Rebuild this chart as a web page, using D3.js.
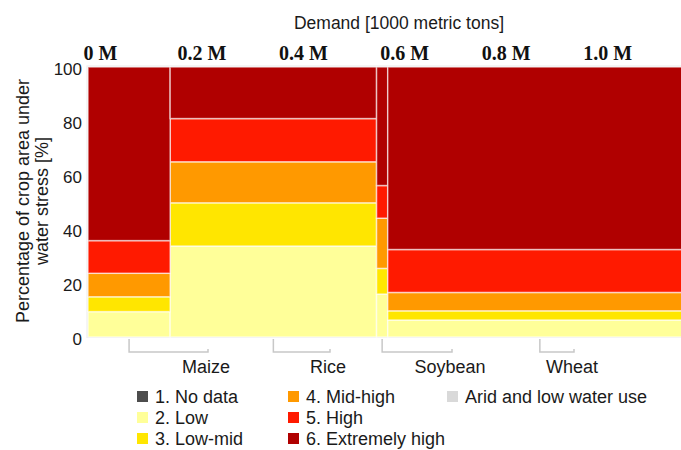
<!DOCTYPE html>
<html>
<head>
<meta charset="utf-8">
<script src="https://cdn.jsdelivr.net/npm/d3@7.9.0/dist/d3.min.js"></script>
<style>
  body { margin: 0; background: #fff; }
  svg { display: block; font-family: "Liberation Sans", Arial, sans-serif; }
</style>
</head>
<body>
<svg id="chart" width="681" height="450"></svg>
<script>
// crops, demand in 1000 metric tons
const crops = ['Maize', 'Rice', 'Soybean', 'Wheat'];
const demand = [162000, 407000, 22000, 600000];

// share of crop area (%) per stress level: Low, Low-mid, Mid-high, High, Extremely high
const stressKeys = ['low', 'lowMid', 'midHigh', 'high', 'extHigh'];
const maizeShare = [9.4, 5.5, 8.7, 12.1, 64.3];
const riceShare = [33.7, 16.0, 15.2, 16.0, 19.1];
const soybeanShare = [15.9, 9.5, 18.6, 12.1, 43.9];
const wheatShare = [6.3, 3.4, 6.8, 15.9, 67.6];

const legendLabels = ['1. No data', '2. Low', '3. Low-mid', '4. Mid-high', '5. High', '6. Extremely high', 'Arid and low water use'];
const legendColors = ['#4d4d4d', '#ffff99', '#ffe600', '#ff9900', '#ff1a00', '#b00000', '#d9d9d9'];
const stressColors = ['#ffff99', '#ffe600', '#ff9900', '#ff1a00', '#b00000'];

const xTicks = [0, 200000, 400000, 600000, 800000, 1000000];
const yTicks = [0, 20, 40, 60, 80, 100];

// table for stacking
const shares = [maizeShare, riceShare, soybeanShare, wheatShare];
let acc = 0;
const table = crops.map((c, i) => {
  const row = { crop: c, x0: acc, x1: acc + demand[i] };
  acc += demand[i];
  stressKeys.forEach((k, j) => (row[k] = shares[i][j]));
  return row;
});

const svg = d3.select('#chart');

const x = d3.scaleLinear().domain([0, d3.sum(demand)]).range([88, 692]);
const y = d3.scaleLinear().domain([0, 100]).range([337, 67]);
const color = d3.scaleOrdinal().domain(stressKeys).range(stressColors);

// plot background
svg.append('rect')
  .attr('x', x(0) - 1.5).attr('y', y(100) - 1.5)
  .attr('width', 681 - x(0) + 1.5).attr('height', y(0) - y(100) + 2.5)
  .attr('fill', '#ececec');

// mosaic cells
const series = d3.stack().keys(stressKeys)(table);
svg.append('g')
  .selectAll('g')
  .data(series)
  .join('g')
  .attr('fill', (d) => color(d.key))
  .selectAll('rect')
  .data((d) => d)
  .join('rect')
  .attr('x', (d) => x(d.data.x0))
  .attr('width', (d) => x(d.data.x1) - x(d.data.x0))
  .attr('y', (d) => y(d[1]))
  .attr('height', (d) => y(d[0]) - y(d[1]))
  .attr('stroke', '#fff')
  .attr('stroke-opacity', 0.6)
  .attr('stroke-width', 1.5);

// title
svg.append('text')
  .attr('x', 399).attr('y', 29)
  .attr('text-anchor', 'middle')
  .attr('font-size', 17.5)
  .attr('fill', '#1a1a1a')
  .text('Demand [1000 metric tons]');

// top axis (demand)
const xAxis = svg.append('g')
  .attr('transform', 'translate(12,60)')
  .call(d3.axisTop(x).tickValues(xTicks).tickSize(0).tickPadding(0)
    .tickFormat((d) => (d === 0 ? '0 M' : d3.format('.1f')(d / 1e6) + ' M')));
xAxis.select('.domain').remove();
xAxis.selectAll('text')
  .attr('font-family', '"Liberation Serif", "Times New Roman", serif')
  .attr('font-weight', 'bold')
  .attr('font-size', 20)
  .attr('fill', '#111');

// left axis (percentage)
const yAxis = svg.append('g')
  .attr('transform', `translate(${x(0)},0)`)
  .call(d3.axisLeft(y).tickValues(yTicks).tickSize(0).tickPadding(6));
yAxis.select('.domain').remove();
yAxis.selectAll('text')
  .attr('font-family', '"Liberation Sans", Arial, sans-serif')
  .attr('font-size', 17)
  .attr('fill', '#1a1a1a')
  .attr('dy', '0.45em');

// y label
const yLab = ['Percentage of crop area under', 'water stress [%]'];
svg.append('g')
  .selectAll('text')
  .data(yLab)
  .join('text')
  .attr('transform', (d, i) => `translate(${29 + i * 18.5},201) rotate(-90)`)
  .attr('text-anchor', 'middle')
  .attr('font-size', 18)
  .attr('fill', '#1a1a1a')
  .text((d) => d);

// crop labels with brackets
const labelX = d3.scalePoint().domain(crops).range([206, 572]);
const brackets = svg.append('g');
brackets.selectAll('path')
  .data(table)
  .join('path')
  .attr('d', (d) => {
    const cx = (x(d.x0) + x(d.x1)) / 2;
    const lx = labelX(d.crop) + 2;
    return `M${cx},339V352H${lx}V349`;
  })
  .attr('fill', 'none')
  .attr('stroke', '#c8c8c8')
  .attr('stroke-width', 1.5);
brackets.selectAll('text')
  .data(table)
  .join('text')
  .attr('x', (d) => labelX(d.crop))
  .attr('y', 373)
  .attr('text-anchor', 'middle')
  .attr('font-size', 18)
  .attr('fill', '#1a1a1a')
  .text((d) => d.crop);

// legend
const legendColX = [137, 288, 447];
const legend = svg.append('g')
  .selectAll('g')
  .data(legendLabels)
  .join('g')
  .attr('transform', (d, i) => `translate(${legendColX[Math.floor(i / 3)]},${403 + (i % 3) * 21})`);
legend.append('rect')
  .attr('x', 0).attr('y', -12)
  .attr('width', 11).attr('height', 11)
  .attr('fill', (d, i) => legendColors[i]);
legend.append('text')
  .attr('x', 18).attr('y', 0)
  .attr('font-size', 18)
  .attr('fill', '#1a1a1a')
  .text((d) => d);
</script>
</body>
</html>
